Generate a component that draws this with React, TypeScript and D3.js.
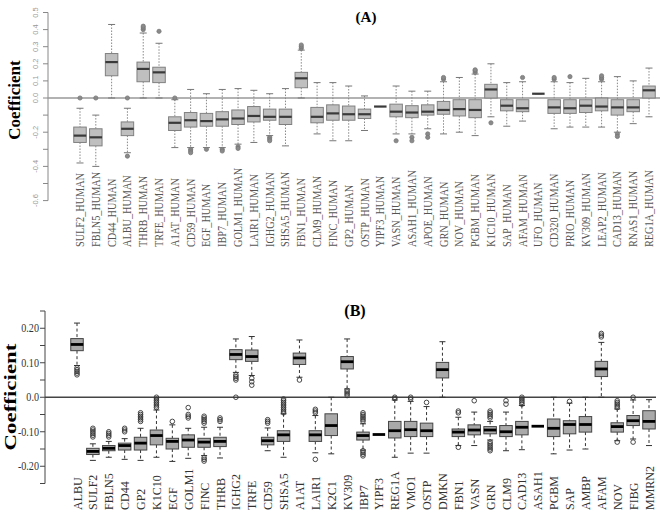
import React from "react";
import * as d3 from "d3";

// ---------- Panel A data ----------
const labelsA = ["SULF2","FBLN5","CD44","ALBU","THRB","TRFE","A1AT","CD59","EGF","IBP7","GOLM1","LAIR1","IGHG2","SHSA5","FBN1","CLM9","FINC","GP2","OSTP","YIPF3","VASN","ASAH1","APOE","GRN","NOV","PGBM","K1C10","SAP","AFAM","UFO","CD320","PRIO","KV309","LEAP2","CAD13","RNAS1","REG1A"];
const lowA = [-0.38,-0.40,0.0,-0.32,0.0,0.0,-0.29,-0.29,-0.29,-0.29,-0.27,-0.26,-0.22,-0.28,0.0,-0.21,-0.25,-0.25,-0.19,-0.05,-0.21,-0.21,-0.18,-0.21,-0.20,-0.22,-0.11,-0.165,-0.135,0.025,-0.18,-0.17,-0.17,-0.17,-0.20,-0.15,-0.11];
const q1A = [-0.26,-0.28,0.13,-0.22,0.095,0.09,-0.19,-0.17,-0.165,-0.165,-0.155,-0.14,-0.13,-0.155,0.06,-0.145,-0.13,-0.13,-0.12,-0.05,-0.11,-0.115,-0.10,-0.095,-0.105,-0.115,0.0,-0.075,-0.08,0.025,-0.09,-0.09,-0.085,-0.075,-0.10,-0.08,0.0];
const medA = [-0.22,-0.23,0.21,-0.18,0.17,0.15,-0.145,-0.13,-0.135,-0.125,-0.12,-0.105,-0.11,-0.11,0.115,-0.11,-0.09,-0.095,-0.095,-0.05,-0.08,-0.085,-0.08,-0.07,-0.065,-0.07,0.05,-0.045,-0.06,0.025,-0.055,-0.06,-0.045,-0.05,-0.055,-0.055,0.045];
const q3A = [-0.17,-0.18,0.26,-0.14,0.21,0.18,-0.11,-0.085,-0.09,-0.08,-0.07,-0.05,-0.065,-0.065,0.15,-0.055,-0.04,-0.047,-0.065,-0.05,-0.036,-0.045,-0.04,-0.02,-0.01,-0.01,0.08,-0.01,-0.01,0.025,-0.01,-0.01,-0.01,0.0,-0.01,-0.01,0.07];
const highA = [-0.06,-0.10,0.43,-0.06,0.38,0.32,-0.01,0.05,0.025,0.05,0.055,0.045,0.025,0.055,0.28,0.09,0.09,0.07,0.012,-0.05,0.07,0.04,0.04,0.095,0.12,0.14,0.20,0.09,0.095,0.025,0.095,0.09,0.115,0.095,0.125,0.10,0.175];
const outA = [[0.0],[0.0],[],[0.0,-0.34],[0.40,0.41,0.42],[0.39],[0.0],[-0.30,-0.31,-0.32],[-0.30],[-0.30,-0.31],[-0.285,-0.295],[],[-0.23,-0.24,-0.25],[],[0.29,0.30,0.31],[],[],[],[],[],[-0.25],[-0.23,-0.25],[-0.21,-0.23],[0.11,0.12],[],[0.15,0.16,0.165],[-0.145],[],[0.12],[],[0.11,0.12],[0.125],[],[0.11,0.12,0.13],[-0.21,-0.225],[],[]];
const ticksA = [0.5,0.4,0.3,0.2,0.1,0.0,-0.1,-0.2,-0.3,-0.4,-0.5,-0.6];
const tickLabelsA = ["0.5","0.4","0.3","0.2","0.1","0.0","","-0.2","","-0.4","","-0.6"];

// ---------- Panel B data ----------
const labelsB = ["ALBU","SULF2","FBLN5","CD44","GP2","K1C10","EGF","GOLM1","FINC","THRB","IGHG2","TRFE","CD59","SHSA5","A1AT","LAIR1","K2C1","KV309","IBP7","YIPF3","REG1A","VMO1","OSTP","DMKN","FBN1","VASN","GRN","CLM9","CAD13","ASAH1","PGBM","SAP","AMBP","AFAM","NOV","FIBG","MMRN2"];
const lowB = [0.092,-0.183,-0.174,-0.18,-0.183,-0.174,-0.186,-0.177,-0.169,-0.176,0.072,0.063,-0.155,-0.174,0.058,-0.161,-0.164,0.024,-0.153,-0.108,-0.174,-0.162,-0.162,0.0,-0.14,-0.14,-0.124,-0.155,-0.152,-0.084,-0.164,-0.153,-0.15,0.0,-0.126,-0.121,-0.14];
const q1B = [0.135,-0.166,-0.155,-0.153,-0.153,-0.138,-0.15,-0.145,-0.145,-0.143,0.109,0.104,-0.138,-0.128,0.095,-0.128,-0.111,0.082,-0.124,-0.108,-0.118,-0.114,-0.114,0.056,-0.114,-0.109,-0.106,-0.114,-0.109,-0.084,-0.114,-0.106,-0.101,0.06,-0.101,-0.082,-0.092];
const medB = [0.153,-0.157,-0.148,-0.14,-0.133,-0.111,-0.128,-0.124,-0.13,-0.128,0.124,0.118,-0.126,-0.109,0.114,-0.109,-0.082,0.103,-0.111,-0.108,-0.097,-0.094,-0.097,0.08,-0.101,-0.095,-0.095,-0.1,-0.087,-0.084,-0.09,-0.079,-0.079,0.082,-0.085,-0.068,-0.07];
const q3B = [0.17,-0.148,-0.14,-0.133,-0.116,-0.095,-0.119,-0.109,-0.119,-0.116,0.138,0.137,-0.116,-0.097,0.128,-0.097,-0.048,0.118,-0.101,-0.108,-0.07,-0.07,-0.075,0.101,-0.092,-0.08,-0.085,-0.082,-0.07,-0.084,-0.063,-0.068,-0.056,0.104,-0.074,-0.053,-0.039];
const highB = [0.215,-0.135,-0.128,-0.12,-0.09,-0.037,-0.08,-0.09,-0.087,-0.087,0.169,0.176,-0.089,-0.048,0.166,-0.053,0.0,0.169,-0.077,-0.108,-0.008,-0.012,-0.027,0.161,-0.058,-0.043,-0.07,-0.043,-0.024,-0.084,0.0,-0.017,0.0,0.159,-0.034,-0.008,-0.007];
const outB = [[0.085,0.08,0.075,0.07,0.065],[-0.09,-0.095,-0.10,-0.105,-0.11,-0.115],[-0.10,-0.105,-0.11,-0.115],[-0.09,-0.095,-0.10],[-0.045,-0.05,-0.055,-0.06,-0.065,-0.07],[0.0,-0.005,-0.01,-0.015,-0.02,-0.025,-0.03],[-0.07],[-0.03,-0.05,-0.055,-0.06],[-0.055,-0.06,-0.065,-0.07,-0.075,-0.175,-0.18,-0.185],[-0.06,-0.065,-0.07],[0.065,0.06,0.055,0.05,0.0],[0.055,0.045,0.035],[-0.065,-0.07,-0.075],[-0.005,-0.01,-0.015,-0.02,-0.025,-0.03,-0.035,-0.04,-0.045],[0.05],[-0.035,-0.04,-0.045,-0.18],[],[0.02,0.015,0.01,0.005],[-0.045,-0.05,-0.055,-0.06,-0.065,-0.07,-0.155,-0.16,-0.165,-0.17],[],[0.0,-0.004],[0.0,-0.005],[-0.015],[],[-0.04,-0.045,-0.145],[-0.01],[-0.04,-0.045,-0.05,-0.055,-0.06,-0.13,-0.135,-0.14,-0.145,-0.15,-0.155],[-0.01,-0.02],[0.0,-0.005,-0.01,-0.015,-0.02],[],[],[-0.012],[],[0.175,0.18,0.185],[-0.01,-0.015,-0.02,-0.025,-0.03,-0.13],[0.0,-0.13],[]];
const ticksB = [0.25,0.2,0.15,0.1,0.05,0.0,-0.05,-0.1,-0.15,-0.2,-0.25];
const tickLabelsB = ["","0.20","","0.10","","0.0","","-0.10","","-0.20",""];

export default function App() {
  const serif = "'Liberation Serif', 'Times New Roman', serif";
  // Panel A scales
  const xA = d3.scalePoint<string>().domain(labelsA).range([80, 649]);
  const yA = d3.scaleLinear().domain([-0.6, 0.5]).range([200.6, 12.5]);
  // Panel B scales
  const xB = d3.scalePoint<string>().domain(labelsB).range([77, 649]);
  const yB = d3.scaleLinear().domain([-0.25, 0.25]).range([483.5, 311]);

  const bwA = 12.5, bwB = 12.5;

  return (
    <svg width={662} height={512} style={{ position: "fixed", left: 0, top: 0, background: "#fff" }}>
      <rect x={0} y={0} width={662} height={512} fill="#fff" />
      {/* ===== Panel A ===== */}
      <text x={366} y={22} textAnchor="middle" fontFamily={serif} fontWeight="bold" fontSize={15}>(A)</text>
      <text transform="translate(20,100) rotate(-90)" textAnchor="middle" fontFamily={serif} fontWeight="bold" fontSize={17}>Coefficient</text>
      <line x1={48} x2={48} y1={yA(0.5)} y2={yA(-0.6)} stroke="#888" strokeWidth={1} />
      {ticksA.map((t, i) => (
        <g key={"ta" + i}>
          <line x1={43} x2={48} y1={yA(t)} y2={yA(t)} stroke="#888" />
          {tickLabelsA[i] && (
            <text transform={`translate(38,${yA(t)}) rotate(-90)`} textAnchor="middle" fontFamily="'Liberation Sans', Arial, sans-serif" fontSize={7.5} fill="#999">{tickLabelsA[i]}</text>
          )}
        </g>
      ))}
      <line x1={48} x2={660} y1={yA(0)} y2={yA(0)} stroke="#999" strokeWidth={1.3} />
      {labelsA.map((c, i) => {
        const cx = xA(c)!;
        const lo = yA(lowA[i]), q1 = yA(q1A[i]), md = yA(medA[i]), q3 = yA(q3A[i]), hi = yA(highA[i]);
        return (
          <g key={"a" + c}>
            <line x1={cx} x2={cx} y1={hi} y2={q3} stroke="#888" strokeDasharray="1.5,1.5" />
            <line x1={cx} x2={cx} y1={q1} y2={lo} stroke="#888" strokeDasharray="1.5,1.5" />
            <line x1={cx - 3.5} x2={cx + 3.5} y1={hi} y2={hi} stroke="#777" />
            <line x1={cx - 3.5} x2={cx + 3.5} y1={lo} y2={lo} stroke="#777" />
            <rect x={cx - bwA / 2} y={q3} width={bwA} height={Math.max(q1 - q3, 0)} fill="#bfbfbf" stroke="#808080" strokeWidth={1} />
            <line x1={cx - bwA / 2} x2={cx + bwA / 2} y1={md} y2={md} stroke="#3a3a3a" strokeWidth={2.2} />
            {outA[i].map((o, j) => (
              <circle key={j} cx={cx} cy={yA(o)} r={2.1} fill="#8a8a8a" stroke="#777" strokeWidth={0.8} />
            ))}
            <text transform={`translate(${cx + 4},247) rotate(-90) scale(0.82,1)`} fontFamily={serif} fontSize={12.5} fill="#555">{c + "_HUMAN"}</text>
          </g>
        );
      })}

      {/* ===== Panel B ===== */}
      <text x={355} y={316} textAnchor="middle" fontFamily={serif} fontWeight="bold" fontSize={16}>(B)</text>
      <text transform="translate(16,397) rotate(-90) scale(1.35,1)" textAnchor="middle" fontFamily={serif} fontWeight="bold" fontSize={17}>Coefficient</text>
      <line x1={45} x2={45} y1={yB(0.25)} y2={yB(-0.25)} stroke="#444" strokeWidth={1} />
      {ticksB.map((t, i) => (
        <g key={"tb" + i}>
          <line x1={40} x2={45} y1={yB(t)} y2={yB(t)} stroke="#444" />
          {tickLabelsB[i] && (
            <text transform={`translate(39,${yB(t) + 4}) scale(0.78,1)`} textAnchor="end" fontFamily={serif} fontSize={13} fill="#333">{tickLabelsB[i]}</text>
          )}
        </g>
      ))}
      <line x1={45} x2={656} y1={yB(0)} y2={yB(0)} stroke="#444" strokeWidth={1.3} />
      {labelsB.map((c, i) => {
        const cx = xB(c)!;
        const lo = yB(lowB[i]), q1 = yB(q1B[i]), md = yB(medB[i]), q3 = yB(q3B[i]), hi = yB(highB[i]);
        return (
          <g key={"b" + c}>
            <line x1={cx} x2={cx} y1={hi} y2={q3} stroke="#333" strokeDasharray="3,2.5" />
            <line x1={cx} x2={cx} y1={q1} y2={lo} stroke="#333" strokeDasharray="3,2.5" />
            <line x1={cx - 3} x2={cx + 3} y1={hi} y2={hi} stroke="#333" />
            <line x1={cx - 3} x2={cx + 3} y1={lo} y2={lo} stroke="#333" />
            <rect x={cx - bwB / 2} y={q3} width={bwB} height={Math.max(q1 - q3, 0)} fill="#a9a9a9" stroke="#444" strokeWidth={1} />
            <line x1={cx - bwB / 2} x2={cx + bwB / 2} y1={md} y2={md} stroke="#000" strokeWidth={2.8} />
            {outB[i].map((o, j) => (
              <circle key={j} cx={cx} cy={yB(o)} r={2.3} fill="none" stroke="#333" strokeWidth={0.9} />
            ))}
            <text transform={`translate(${cx + 4.5},510) rotate(-90)`} fontFamily={serif} fontSize={12} fill="#333">{c}</text>
          </g>
        );
      })}
    </svg>
  );
}
